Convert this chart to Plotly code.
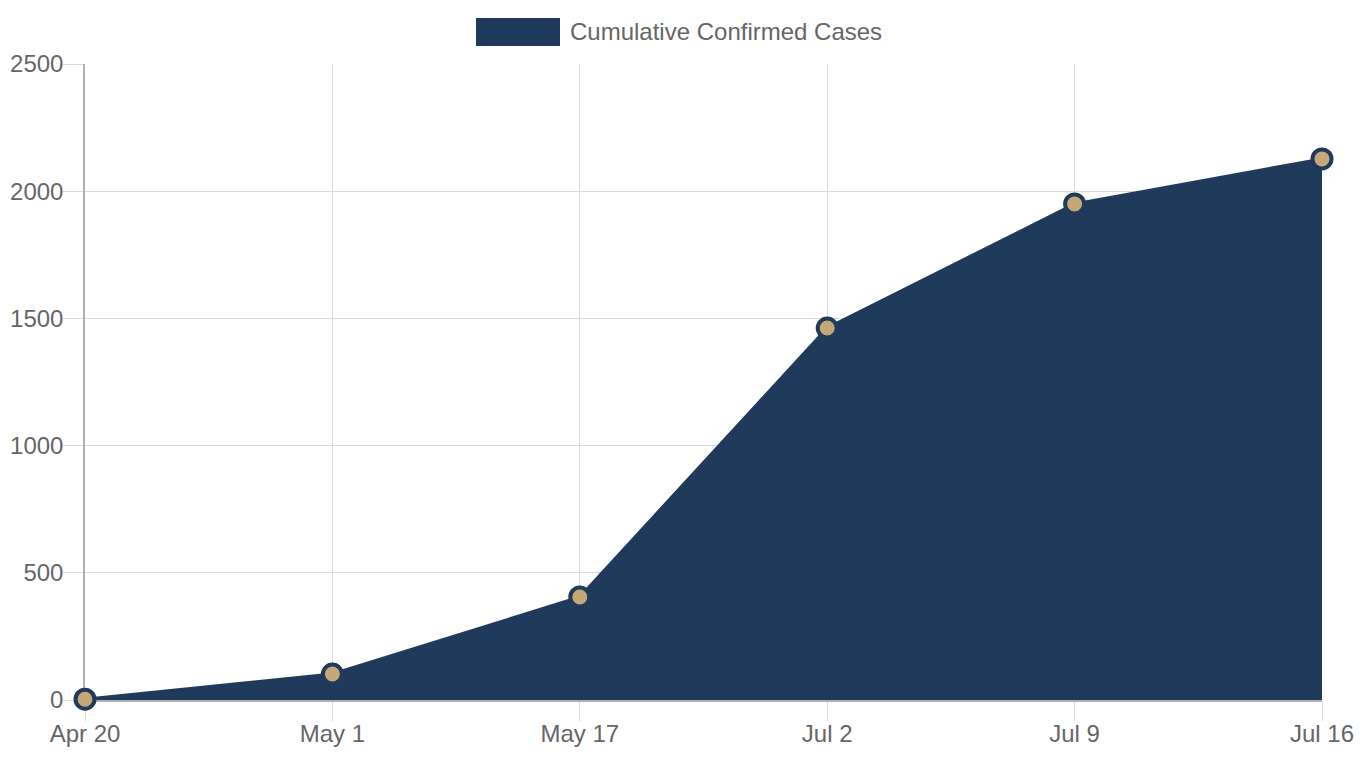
import plotly.graph_objects as go

dates = ["Apr 20", "May 1", "May 17", "Jul 2", "Jul 9", "Jul 16"]
cases = [3, 102, 405, 1462, 1950, 2127]
series_name = "Cumulative Confirmed Cases"
y_ticks = [0, 500, 1000, 1500, 2000, 2500]

NAVY = "#1f3a5a"
TAN = "#c4a878"
GRID = "#dadada"
TEXT = "#666666"
FONT = "Liberation Sans, Arial, Helvetica, sans-serif"
FS = 24

fig = go.Figure()
fig.add_trace(go.Scatter(
    x=dates, y=cases, name=series_name,
    mode="lines+markers",
    fill="tozeroy", fillcolor=NAVY,
    line=dict(color=NAVY, width=3),
    marker=dict(size=19, color=TAN, line=dict(color=NAVY, width=4)),
    cliponaxis=False, showlegend=False,
))

# legend (Chart.js style wide box)
fig.add_shape(type="rect", xref="paper", yref="paper",
              x0=(476 - 85) / 1237, x1=(560 - 85) / 1237,
              y0=(700 - 46) / 636, y1=(700 - 18) / 636,
              fillcolor=NAVY, line=dict(width=0))
fig.add_annotation(text=series_name, xref="paper", yref="paper",
                   x=(568 - 85) / 1237, y=(700 - 31) / 636,
                   xanchor="left", yanchor="middle", showarrow=False,
                   font=dict(family=FONT, size=FS, color=TEXT))

fig.update_layout(
    width=1360, height=760,
    margin=dict(l=85, r=38, t=64, b=60, autoexpand=False),
    paper_bgcolor="white", plot_bgcolor="white",
    font=dict(family=FONT, size=FS, color=TEXT),
    showlegend=False,
)
fig.update_xaxes(
    type="category", range=[0, len(dates) - 1],
    showgrid=True, gridcolor=GRID, gridwidth=1,
    showline=True, linecolor="#b0b0b0", linewidth=1.5,
    ticks="outside", ticklen=19, tickcolor=GRID, tickwidth=1,
    ticklabelstandoff=-8,
    layer="below traces", zeroline=False, automargin=False,
    tickfont=dict(family=FONT, size=FS, color=TEXT),
)
fig.update_yaxes(
    range=[0, 2500], tickvals=y_ticks,
    showgrid=True, gridcolor=GRID, gridwidth=1,
    showline=True, linecolor="#b0b0b0", linewidth=1.5,
    ticks="outside", ticklen=20, tickcolor=GRID, tickwidth=1,
    ticklabelstandoff=-5,
    layer="below traces", zeroline=False, automargin=False,
    tickfont=dict(family=FONT, size=FS, color=TEXT),
)

fig.write_html("out.html")
